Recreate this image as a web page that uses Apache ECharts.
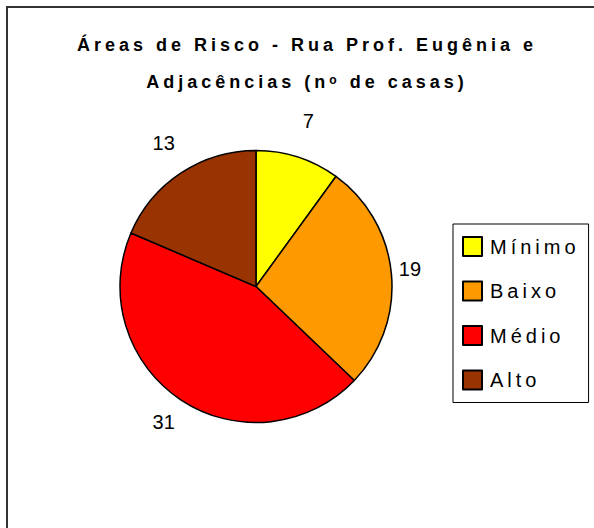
<!DOCTYPE html>
<html>
<head>
<meta charset="utf-8">
<script src="https://cdn.jsdelivr.net/npm/echarts@6/dist/echarts.min.js"></script>
<style>
  html, body { margin: 0; padding: 0; background: #fff; overflow: hidden; }
  #chart { width: 594px; height: 528px; }
  #chart text[style*="bold"] { letter-spacing: 4px; }
  #chart text[style*="Liberation"] { letter-spacing: 4px; }
</style>
</head>
<body>
<div id="chart"></div>
<script>
const titleText = 'Áreas de Risco - Rua Prof. Eugênia e\nAdjacências (nᵒ de casas)';
const categories = ['Mínimo', 'Baixo', 'Médio', 'Alto'];
const values = [7, 19, 31, 13];
const colors = ['#FFFF00', '#FF9900', '#FF0000', '#993300'];

const FONT_TITLE = 'Arial, sans-serif';
const FONT_LEGEND = 'Liberation Sans, Arial, sans-serif';
const FONT_LABEL = 'Arial, sans-serif';

const chart = echarts.init(document.getElementById('chart'), null, { renderer: 'svg' });

const pieData = categories.map((name, i) => ({
  name: name,
  value: values[i],
  itemStyle: { color: colors[i] }
}));

chart.setOption({
  backgroundColor: '#ffffff',
  animation: false,
  graphic: [{
    type: 'rect',
    shape: { x: 7, y: 7, width: 640, height: 600 },
    style: { fill: 'none', stroke: '#333333', lineWidth: 2 },
    silent: true,
    z: 100
  }],
  title: {
    text: titleText,
    left: 307,
    top: 26,
    padding: 0,
    textAlign: 'center',
    textStyle: {
      fontFamily: FONT_TITLE,
      fontSize: 18,
      fontWeight: 'bold',
      color: '#000',
      lineHeight: 37.5
    }
  },
  legend: {
    orient: 'vertical',
    left: 453,
    top: 224,
    padding: [12, 33, 12, 9],
    itemGap: 23.5,
    itemWidth: 19,
    itemHeight: 19,
    icon: 'rect',
    borderColor: '#000',
    borderWidth: 1,
    selectedMode: false,
    data: categories,
    itemStyle: { borderColor: '#000', borderWidth: 2 },
    textStyle: {
      fontFamily: FONT_LEGEND,
      fontSize: 20,
      color: '#000',
      lineHeight: 19,
      padding: [0, 0, 0, 3]
    }
  },
  series: [{
    type: 'pie',
    center: [256, 286.5],
    radius: 136,
    startAngle: 90,
    clockwise: true,
    avoidLabelOverlap: false,
    data: pieData,
    itemStyle: { borderColor: '#000', borderWidth: 1.5 },
    emphasis: { disabled: true },
    label: {
      show: true,
      position: 'outside',
      formatter: '{c}',
      fontFamily: FONT_LABEL,
      fontSize: 20,
      color: '#000'
    },
    labelLine: {
      show: true,
      length: 10,
      length2: 0,
      lineStyle: { opacity: 0, width: 0 }
    },
    labelLayout: function (p) {
      const pts = p.labelLinePoints;
      if (!pts || pts.length < 2) return {};
      const x0 = pts[0][0], y0 = pts[0][1];
      const dx = pts[1][0] - x0, dy = pts[1][1] - y0;
      const L = Math.hypot(dx, dy) || 1;
      const ux = dx / L, uy = dy / L;
      const d = 17 + 17.5 * Math.abs(uy);
      return { x: x0 + ux * d, y: y0 + uy * d - 4, align: 'center', verticalAlign: 'middle' };
    }
  }]
});
</script>
</body>
</html>
